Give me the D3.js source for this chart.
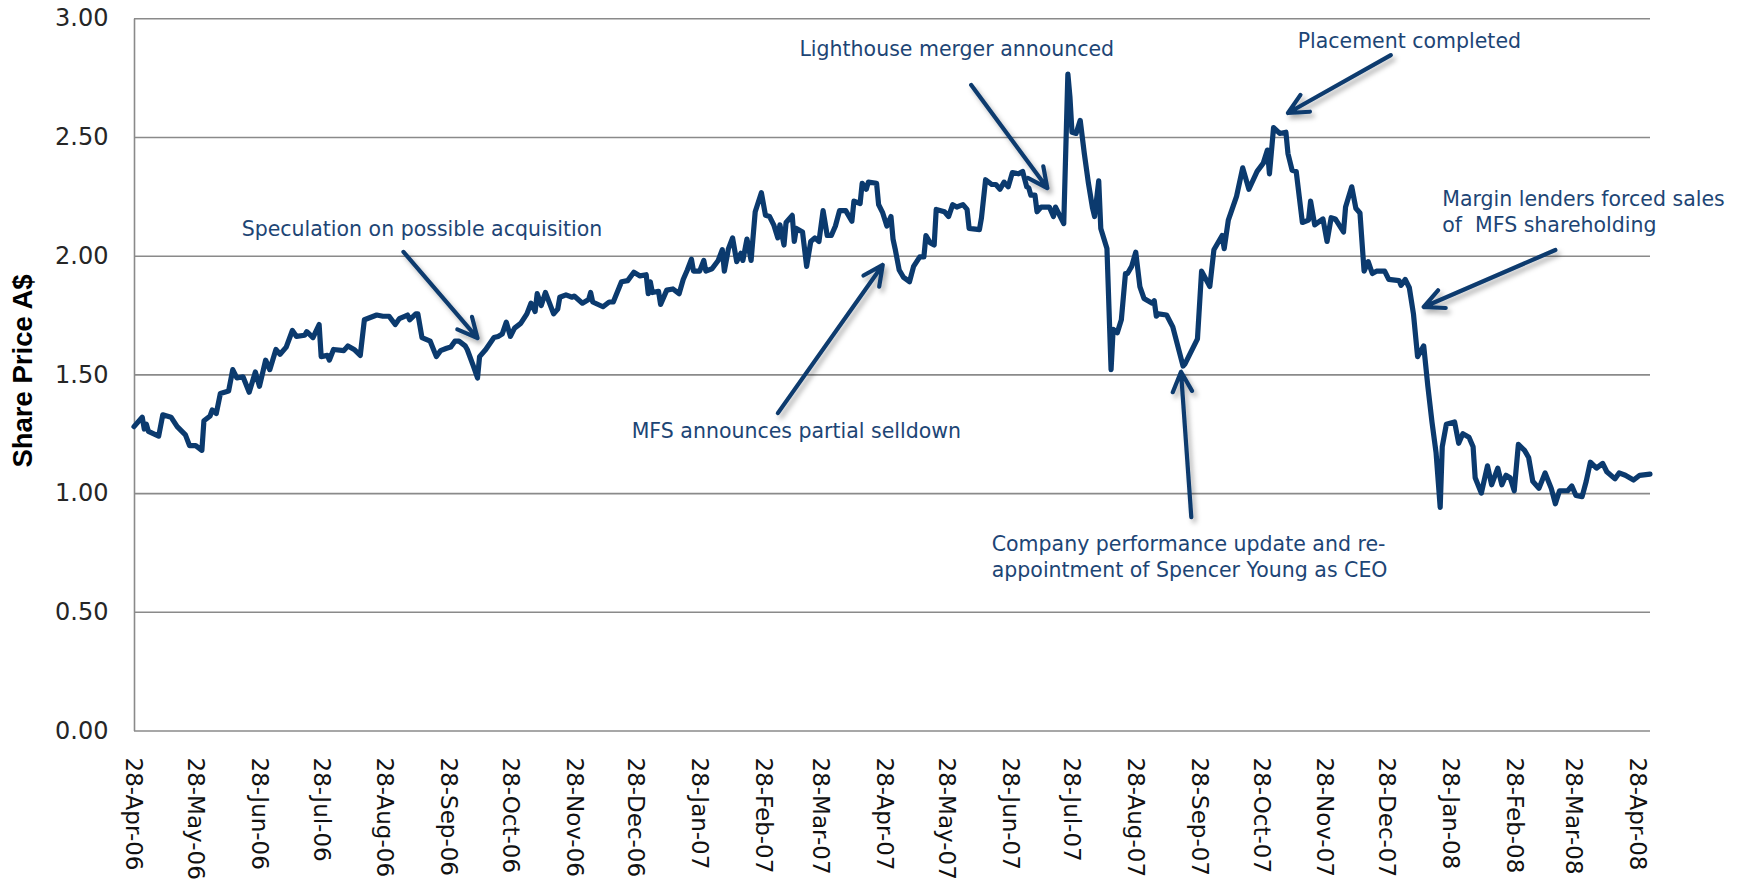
<!DOCTYPE html>
<html>
<head>
<meta charset="utf-8">
<script src="https://cdn.jsdelivr.net/npm/d3@7"></script>
<style>
  body { margin: 0; background: #fff; }
  .tickY text { font-family: "DejaVu Sans", sans-serif; font-size: 24px; fill: #262626; }
  .tickX text { font-family: "DejaVu Sans", sans-serif; font-size: 23px; fill: #111; }
  .note { font-family: "DejaVu Sans", sans-serif; font-size: 20.5px; fill: #1d4575; white-space: pre; }
  .yTitle { font-family: "Liberation Sans", Arial, sans-serif; font-weight: bold; font-size: 27.5px; fill: #000; }
</style>
</head>
<body>
<script>
// daily close, A$
var priceData = [
  ["2006-04-28",1.28],["2006-05-02",1.32],["2006-05-03",1.27],["2006-05-04",1.29],["2006-05-05",1.26],
  ["2006-05-10",1.24],["2006-05-12",1.33],["2006-05-16",1.32],["2006-05-19",1.28],["2006-05-23",1.245],
  ["2006-05-25",1.20],["2006-05-28",1.20],["2006-05-31",1.18],["2006-06-01",1.305],["2006-06-04",1.325],
  ["2006-06-05",1.35],["2006-06-07",1.335],["2006-06-09",1.42],["2006-06-13",1.43],["2006-06-15",1.52],
  ["2006-06-17",1.485],["2006-06-20",1.49],["2006-06-23",1.425],["2006-06-26",1.51],["2006-06-28",1.45],
  ["2006-07-01",1.56],["2006-07-03",1.52],["2006-07-06",1.605],["2006-07-08",1.585],["2006-07-11",1.615],
  ["2006-07-14",1.685],["2006-07-16",1.66],["2006-07-20",1.665],["2006-07-21",1.68],["2006-07-24",1.655],
  ["2006-07-27",1.71],["2006-07-28",1.575],["2006-07-31",1.58],["2006-08-01",1.56],["2006-08-03",1.605],
  ["2006-08-08",1.60],["2006-08-10",1.62],["2006-08-13",1.605],["2006-08-16",1.58],["2006-08-18",1.73],
  ["2006-08-24",1.75],["2006-08-27",1.745],["2006-08-30",1.745],["2006-09-02",1.71],["2006-09-04",1.735],
  ["2006-09-08",1.75],["2006-09-09",1.73],["2006-09-12",1.755],["2006-09-13",1.755],["2006-09-15",1.655],
  ["2006-09-19",1.64],["2006-09-22",1.575],["2006-09-24",1.60],["2006-09-27",1.61],["2006-09-29",1.615],
  ["2006-10-01",1.64],["2006-10-03",1.64],["2006-10-06",1.62],["2006-10-07",1.605],["2006-10-10",1.535],
  ["2006-10-12",1.485],["2006-10-13",1.575],["2006-10-16",1.605],["2006-10-20",1.655],["2006-10-22",1.66],
  ["2006-10-24",1.67],["2006-10-26",1.72],["2006-10-28",1.66],["2006-10-30",1.695],["2006-11-02",1.715],
  ["2006-11-05",1.755],["2006-11-07",1.80],["2006-11-09",1.765],["2006-11-10",1.84],["2006-11-12",1.79],
  ["2006-11-14",1.845],["2006-11-16",1.80],["2006-11-18",1.755],["2006-11-20",1.775],["2006-11-21",1.825],
  ["2006-11-24",1.835],["2006-11-27",1.825],["2006-11-28",1.83],["2006-12-02",1.80],["2006-12-05",1.815],
  ["2006-12-06",1.845],["2006-12-07",1.805],["2006-12-12",1.785],["2006-12-15",1.805],["2006-12-17",1.805],
  ["2006-12-21",1.89],["2006-12-24",1.895],["2006-12-27",1.93],["2006-12-30",1.915],["2007-01-02",1.92],
  ["2007-01-03",1.84],["2007-01-04",1.89],["2007-01-05",1.845],["2007-01-08",1.85],["2007-01-09",1.795],
  ["2007-01-11",1.835],["2007-01-12",1.855],["2007-01-15",1.86],["2007-01-18",1.84],["2007-01-20",1.90],
  ["2007-01-22",1.94],["2007-01-24",1.985],["2007-01-25",1.935],["2007-01-28",1.935],["2007-01-30",1.98],
  ["2007-01-31",1.935],["2007-02-03",1.945],["2007-02-06",1.98],["2007-02-08",2.025],["2007-02-09",1.935],
  ["2007-02-11",2.03],["2007-02-13",2.075],["2007-02-15",1.975],["2007-02-17",2.01],["2007-02-18",1.98],
  ["2007-02-20",2.07],["2007-02-22",1.98],["2007-02-24",2.185],["2007-02-27",2.265],["2007-03-01",2.17],
  ["2007-03-03",2.165],["2007-03-05",2.13],["2007-03-07",2.075],["2007-03-08",2.13],["2007-03-10",2.045],
  ["2007-03-11",2.14],["2007-03-14",2.17],["2007-03-15",2.06],["2007-03-16",2.115],["2007-03-19",2.10],
  ["2007-03-21",1.955],["2007-03-23",2.06],["2007-03-25",2.075],["2007-03-27",2.06],["2007-03-29",2.19],
  ["2007-03-31",2.085],["2007-04-02",2.085],["2007-04-04",2.125],["2007-04-06",2.19],["2007-04-09",2.19],
  ["2007-04-12",2.145],["2007-04-13",2.23],["2007-04-16",2.22],["2007-04-17",2.305],["2007-04-19",2.28],
  ["2007-04-20",2.31],["2007-04-24",2.305],["2007-04-25",2.215],["2007-04-27",2.18],["2007-04-29",2.125],
  ["2007-05-01",2.165],["2007-05-02",2.07],["2007-05-03",2.03],["2007-05-05",1.94],["2007-05-07",1.91],
  ["2007-05-10",1.89],["2007-05-12",1.955],["2007-05-15",1.995],["2007-05-17",1.995],["2007-05-18",2.085],
  ["2007-05-20",2.055],["2007-05-22",2.045],["2007-05-23",2.195],["2007-05-27",2.185],["2007-05-29",2.165],
  ["2007-05-31",2.215],["2007-06-02",2.205],["2007-06-05",2.215],["2007-06-07",2.195],["2007-06-08",2.115],
  ["2007-06-13",2.11],["2007-06-14",2.16],["2007-06-16",2.32],["2007-06-19",2.30],["2007-06-21",2.30],
  ["2007-06-23",2.28],["2007-06-25",2.31],["2007-06-27",2.29],["2007-06-29",2.35],["2007-07-02",2.345],
  ["2007-07-04",2.355],["2007-07-06",2.29],["2007-07-07",2.285],["2007-07-08",2.255],["2007-07-10",2.255],
  ["2007-07-11",2.185],["2007-07-13",2.205],["2007-07-17",2.205],["2007-07-19",2.165],["2007-07-20",2.205],
  ["2007-07-22",2.17],["2007-07-24",2.135],["2007-07-26",2.765],["2007-07-27",2.67],["2007-07-28",2.52],
  ["2007-07-30",2.515],["2007-08-01",2.57],["2007-08-03",2.43],["2007-08-05",2.305],["2007-08-07",2.20],
  ["2007-08-08",2.165],["2007-08-10",2.315],["2007-08-11",2.115],["2007-08-14",2.03],["2007-08-16",1.52],
  ["2007-08-17",1.69],["2007-08-19",1.675],["2007-08-21",1.73],["2007-08-23",1.925],["2007-08-24",1.925],
  ["2007-08-26",1.955],["2007-08-28",2.015],["2007-08-30",1.87],["2007-09-01",1.82],["2007-09-05",1.80],
  ["2007-09-06",1.81],["2007-09-07",1.745],["2007-09-08",1.755],["2007-09-12",1.75],["2007-09-15",1.70],
  ["2007-09-20",1.535],["2007-09-21",1.545],["2007-09-27",1.65],["2007-09-29",1.935],["2007-10-03",1.87],
  ["2007-10-05",2.025],["2007-10-09",2.085],["2007-10-10",2.03],["2007-10-12",2.15],["2007-10-16",2.25],
  ["2007-10-19",2.37],["2007-10-22",2.28],["2007-10-26",2.355],["2007-10-29",2.39],["2007-10-31",2.445],
  ["2007-11-01",2.345],["2007-11-03",2.54],["2007-11-06",2.515],["2007-11-09",2.52],["2007-11-10",2.43],
  ["2007-11-12",2.36],["2007-11-14",2.355],["2007-11-17",2.14],["2007-11-20",2.15],["2007-11-21",2.23],
  ["2007-11-23",2.13],["2007-11-27",2.155],["2007-11-29",2.06],["2007-12-01",2.16],["2007-12-03",2.155],
  ["2007-12-07",2.10],["2007-12-08",2.205],["2007-12-11",2.29],["2007-12-13",2.20],["2007-12-15",2.18],
  ["2007-12-17",1.935],["2007-12-19",1.975],["2007-12-21",1.925],["2007-12-23",1.935],["2007-12-27",1.935],
  ["2007-12-29",1.90],["2008-01-03",1.895],["2008-01-04",1.875],["2008-01-06",1.90],["2008-01-08",1.865],
  ["2008-01-10",1.755],["2008-01-12",1.575],["2008-01-15",1.62],["2008-01-17",1.45],["2008-01-19",1.30],
  ["2008-01-21",1.17],["2008-01-23",0.94],["2008-01-24",1.195],["2008-01-26",1.29],["2008-01-30",1.30],
  ["2008-02-01",1.21],["2008-02-03",1.25],["2008-02-06",1.235],["2008-02-08",1.195],["2008-02-09",1.065],
  ["2008-02-12",1.00],["2008-02-15",1.115],["2008-02-17",1.035],["2008-02-20",1.105],["2008-02-22",1.035],
  ["2008-02-24",1.075],["2008-02-26",1.065],["2008-02-28",1.01],["2008-03-01",1.205],["2008-03-04",1.18],
  ["2008-03-06",1.15],["2008-03-08",1.05],["2008-03-11",1.02],["2008-03-14",1.085],["2008-03-17",1.02],
  ["2008-03-19",0.955],["2008-03-21",1.01],["2008-03-25",1.01],["2008-03-27",1.03],["2008-03-29",0.99],
  ["2008-04-01",0.985],["2008-04-03",1.05],["2008-04-05",1.13],["2008-04-08",1.105],["2008-04-11",1.125],
  ["2008-04-13",1.09],["2008-04-17",1.06],["2008-04-19",1.085],["2008-04-22",1.075],["2008-04-26",1.055],
  ["2008-04-29",1.075],["2008-05-04",1.08]
];

var xTickLabels = ["28-Apr-06","28-May-06","28-Jun-06","28-Jul-06","28-Aug-06","28-Sep-06","28-Oct-06",
  "28-Nov-06","28-Dec-06","28-Jan-07","28-Feb-07","28-Mar-07","28-Apr-07","28-May-07","28-Jun-07",
  "28-Jul-07","28-Aug-07","28-Sep-07","28-Oct-07","28-Nov-07","28-Dec-07","28-Jan-08","28-Feb-08",
  "28-Mar-08","28-Apr-08"];
var yTicks = [0, 0.5, 1, 1.5, 2, 2.5, 3];

var noteTexts = [
  ["Speculation on possible acquisition"],
  ["Lighthouse merger announced"],
  ["MFS announces partial selldown"],
  ["Placement completed"],
  ["Margin lenders forced sales", "of  MFS shareholding"],
  ["Company performance update and re-", "appointment of Spencer Young as CEO"]
];

// where each note sits and where its arrow points (date, price)
var noteAt = [
  ["2006-09-15", 2.113, "middle"],
  ["2007-06-02", 2.871, "middle"],
  ["2007-03-16", 1.262, "middle"],
  ["2008-01-08", 2.904, "middle"],
  ["2008-01-24", 2.241, "start"],
  ["2007-06-19", 0.786, "start"]
];
var arrowFrom = [["2006-09-06",2.016],["2007-06-09",2.719],["2007-03-07",1.337],["2007-12-30",2.845],["2008-03-19",2.024],["2007-09-24",0.899]];
var arrowTo   = [["2006-10-12",1.653],["2007-07-16",2.285],["2007-04-27",1.961],["2007-11-10",2.601],["2008-01-15",1.784],["2007-09-19",1.511]];

var W = 1750, H = 892;
var mLeft = 134, mTop = 18.3;
var w = 1516, h = 712.2;

function display() {
    var parseDay = d3.timeParse("%Y-%m-%d");
    var parseTick = d3.timeParse("%d-%b-%y");

    var series = priceData.map(function(d) {
        return { date: parseDay(d[0]), value: d[1] };
    });

    var x = d3.scaleTime()
        .domain([parseDay("2006-04-28"), parseDay("2008-05-04")])
        .range([mLeft, mLeft + w]);
    var y = d3.scaleLinear()
        .domain([0, 3])
        .range([mTop + h, mTop]);

    var svg = d3.select("body").append("svg")
        .attr("width", W)
        .attr("height", H);

    var defs = svg.append("defs");
    defs.append("filter")
        .attr("id", "shadow")
        .attr("x", "-20%").attr("y", "-20%")
        .attr("width", "140%").attr("height", "140%")
        .append("feDropShadow")
        .attr("dx", 3).attr("dy", 4)
        .attr("stdDeviation", 2.5)
        .attr("flood-color", "#000")
        .attr("flood-opacity", 0.3);

    // y axis + grid
    var yAxis = d3.axisLeft(y)
        .tickValues(yTicks)
        .tickSize(-w)
        .tickSizeOuter(0)
        .tickPadding(25.5)
        .tickFormat(d3.format(".2f"));

    var gy = svg.append("g")
        .attr("class", "tickY")
        .attr("transform", "translate(" + mLeft + ",0)")
        .call(yAxis);
    gy.selectAll("line").attr("stroke", "#8a8a8a").attr("stroke-width", 1.6);
    gy.select(".domain").attr("stroke", "#8a8a8a").attr("stroke-width", 1.6);

    // x axis labels
    var xAxis = d3.axisBottom(x)
        .tickValues(xTickLabels.map(parseTick))
        .tickSize(0)
        .tickFormat(function(d, i) { return xTickLabels[i]; });

    var gx = svg.append("g")
        .attr("class", "tickX")
        .attr("transform", "translate(0," + (mTop + h) + ")")
        .call(xAxis);
    gx.select(".domain").remove();
    gx.selectAll("text")
        .attr("y", 0)
        .attr("x", 27)
        .attr("dy", "0.35em")
        .attr("transform", "rotate(90)")
        .style("text-anchor", "start");

    svg.append("text")
        .attr("class", "yTitle")
        .attr("transform", "translate(22," + 371 + ") rotate(-90)")
        .attr("text-anchor", "middle")
        .attr("dy", "0.35em")
        .text("Share Price A$");

    // price line
    var line = d3.line()
        .x(function(d) { return x(d.date); })
        .y(function(d) { return y(d.value); });

    svg.append("path")
        .datum(series)
        .attr("d", line)
        .attr("fill", "none")
        .attr("stroke", "#0b3a6e")
        .attr("stroke-width", 5.2)
        .attr("stroke-linejoin", "round")
        .attr("stroke-linecap", "round");

    // arrows
    var arrowG = svg.append("g").attr("filter", "url(#shadow)");
    arrowFrom.forEach(function(f, i) {
        var t = arrowTo[i];
        var x1 = x(parseDay(f[0])), y1 = y(f[1]);
        var x2 = x(parseDay(t[0])), y2 = y(t[1]);
        var a = Math.atan2(y2 - y1, x2 - x1);
        var L = 22, th = 26 * Math.PI / 180;
        var b1 = [x2 + L * Math.cos(a + Math.PI - th), y2 + L * Math.sin(a + Math.PI - th)];
        var b2 = [x2 + L * Math.cos(a + Math.PI + th), y2 + L * Math.sin(a + Math.PI + th)];
        arrowG.append("path")
            .attr("d", "M" + x1 + "," + y1 + "L" + x2 + "," + y2 +
                "M" + b1[0] + "," + b1[1] + "L" + x2 + "," + y2 + "L" + b2[0] + "," + b2[1])
            .attr("fill", "none")
            .attr("stroke", "#0b3a6e")
            .attr("stroke-width", 4.2)
            .attr("stroke-linecap", "round")
            .attr("stroke-linejoin", "round");
    });

    // notes
    noteTexts.forEach(function(lines, i) {
        var at = noteAt[i];
        var t = svg.append("text")
            .attr("class", "note")
            .attr("text-anchor", at[2])
            .attr("x", x(parseDay(at[0])))
            .attr("y", y(at[1]));
        lines.forEach(function(s, k) {
            t.append("tspan")
                .attr("x", x(parseDay(at[0])))
                .attr("dy", k === 0 ? "0.35em" : "26px")
                .text(s);
        });
    });
}

document.addEventListener("DOMContentLoaded", function() {
    display();
});
</script>
</body>
</html>
